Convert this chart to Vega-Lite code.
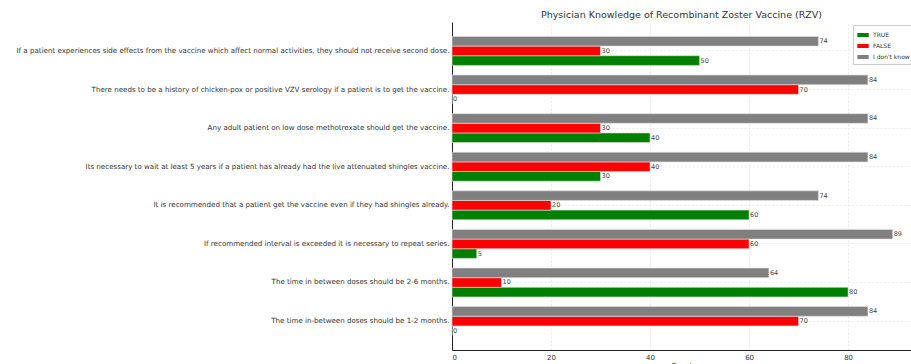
{
  "$schema": "https://vega.github.io/schema/vega-lite/v6.json",
  "autosize": "none",
  "padding": {"left": 452, "top": 22, "right": 0, "bottom": 14},
  "width": 459,
  "height": 328,
  "background": "white",
  "title": {"text": "Physician Knowledge of Recombinant Zoster Vaccine (RZV)", "font": "DejaVu Sans", "fontSize": 9.5, "fontWeight": "normal", "color": "#333333", "offset": 3, "anchor": "middle", "dx": 0},
  "config": {
    "view": {"stroke": null},
    "font": "DejaVu Sans",
    "axis": {"labelFont": "DejaVu Sans", "titleFont": "DejaVu Sans", "labelColor": "#333333", "titleColor": "#333333", "domainColor": "#222222", "tickColor": "#444444", "gridColor": "#e6e6e6", "gridDash": [2, 2], "gridWidth": 0.8}
  },
  "data": {"values": [
    {"statement": "If a patient experiences side effects from the vaccine which affect normal activities, they should not receive second dose.", "answer": "TRUE", "count": 50},
    {"statement": "If a patient experiences side effects from the vaccine which affect normal activities, they should not receive second dose.", "answer": "FALSE", "count": 30},
    {"statement": "If a patient experiences side effects from the vaccine which affect normal activities, they should not receive second dose.", "answer": "I don't know", "count": 74},
    {"statement": "There needs to be a history of chicken-pox or positive VZV serology if a patient is to get the vaccine.", "answer": "TRUE", "count": 0},
    {"statement": "There needs to be a history of chicken-pox or positive VZV serology if a patient is to get the vaccine.", "answer": "FALSE", "count": 70},
    {"statement": "There needs to be a history of chicken-pox or positive VZV serology if a patient is to get the vaccine.", "answer": "I don't know", "count": 84},
    {"statement": "Any adult patient on low dose methotrexate should get the vaccine.", "answer": "TRUE", "count": 40},
    {"statement": "Any adult patient on low dose methotrexate should get the vaccine.", "answer": "FALSE", "count": 30},
    {"statement": "Any adult patient on low dose methotrexate should get the vaccine.", "answer": "I don't know", "count": 84},
    {"statement": "Its necessary to wait at least 5 years if a patient has already had the live attenuated shingles vaccine.", "answer": "TRUE", "count": 30},
    {"statement": "Its necessary to wait at least 5 years if a patient has already had the live attenuated shingles vaccine.", "answer": "FALSE", "count": 40},
    {"statement": "Its necessary to wait at least 5 years if a patient has already had the live attenuated shingles vaccine.", "answer": "I don't know", "count": 84},
    {"statement": "It is recommended that a patient get the vaccine even if they had shingles already.", "answer": "TRUE", "count": 60},
    {"statement": "It is recommended that a patient get the vaccine even if they had shingles already.", "answer": "FALSE", "count": 20},
    {"statement": "It is recommended that a patient get the vaccine even if they had shingles already.", "answer": "I don't know", "count": 74},
    {"statement": "If recommended interval is exceeded it is necessary to repeat series.", "answer": "TRUE", "count": 5},
    {"statement": "If recommended interval is exceeded it is necessary to repeat series.", "answer": "FALSE", "count": 60},
    {"statement": "If recommended interval is exceeded it is necessary to repeat series.", "answer": "I don't know", "count": 89},
    {"statement": "The time in between doses should be 2-6 months.", "answer": "TRUE", "count": 80},
    {"statement": "The time in between doses should be 2-6 months.", "answer": "FALSE", "count": 10},
    {"statement": "The time in between doses should be 2-6 months.", "answer": "I don't know", "count": 64},
    {"statement": "The time in-between doses should be 1-2 months.", "answer": "TRUE", "count": 0},
    {"statement": "The time in-between doses should be 1-2 months.", "answer": "FALSE", "count": 70},
    {"statement": "The time in-between doses should be 1-2 months.", "answer": "I don't know", "count": 84}
  ]},
  "encoding": {
    "y": {"field": "statement", "type": "nominal", "sort": null,
      "scale": {"paddingInner": 0.25, "paddingOuter": 0.374},
      "axis": {"title": null, "labelFontSize": 7.1, "labelLimit": 0, "ticks": false, "labelPadding": 3, "grid": true, "bandPosition": 0.5, "domainWidth": 1}},
    "yOffset": {"field": "answer", "type": "nominal", "sort": ["I don't know", "FALSE", "TRUE"]},
    "x": {"field": "count", "type": "quantitative",
      "scale": {"domain": [0, 92.7], "nice": false, "zero": true},
      "axis": {"title": "Count", "titleFontSize": 7, "titleFontWeight": "normal", "titlePadding": 1, "values": [0, 20, 40, 60, 80], "labelFontSize": 7, "ticks": false, "labelPadding": 3, "grid": true, "domainWidth": 1}}
  },
  "layer": [
    {
      "mark": {"type": "bar", "stroke": "#e0e0e0", "strokeWidth": 0.6, "opacity": 1},
      "encoding": {
        "color": {"field": "answer", "type": "nominal",
          "scale": {"domain": ["TRUE", "FALSE", "I don't know"], "range": ["#008000", "#ff0000", "#808080"]},
          "legend": {"title": null, "orient": "none", "legendX": 401, "legendY": 3, "symbolType": "M-1,-0.35H1V0.35H-1Z", "symbolSize": 130, "labelFontSize": 6, "labelColor": "#333333", "strokeColor": "#cccccc", "padding": 4, "fillColor": "white", "rowPadding": 2, "symbolStrokeWidth": 0, "labelOffset": 4}
        }
      }
    },
    {
      "mark": {"type": "text", "align": "left", "baseline": "middle", "dx": 1, "fontSize": 6.5, "color": "#444444"},
      "encoding": {"text": {"field": "count", "type": "quantitative"}}
    }
  ]
}
